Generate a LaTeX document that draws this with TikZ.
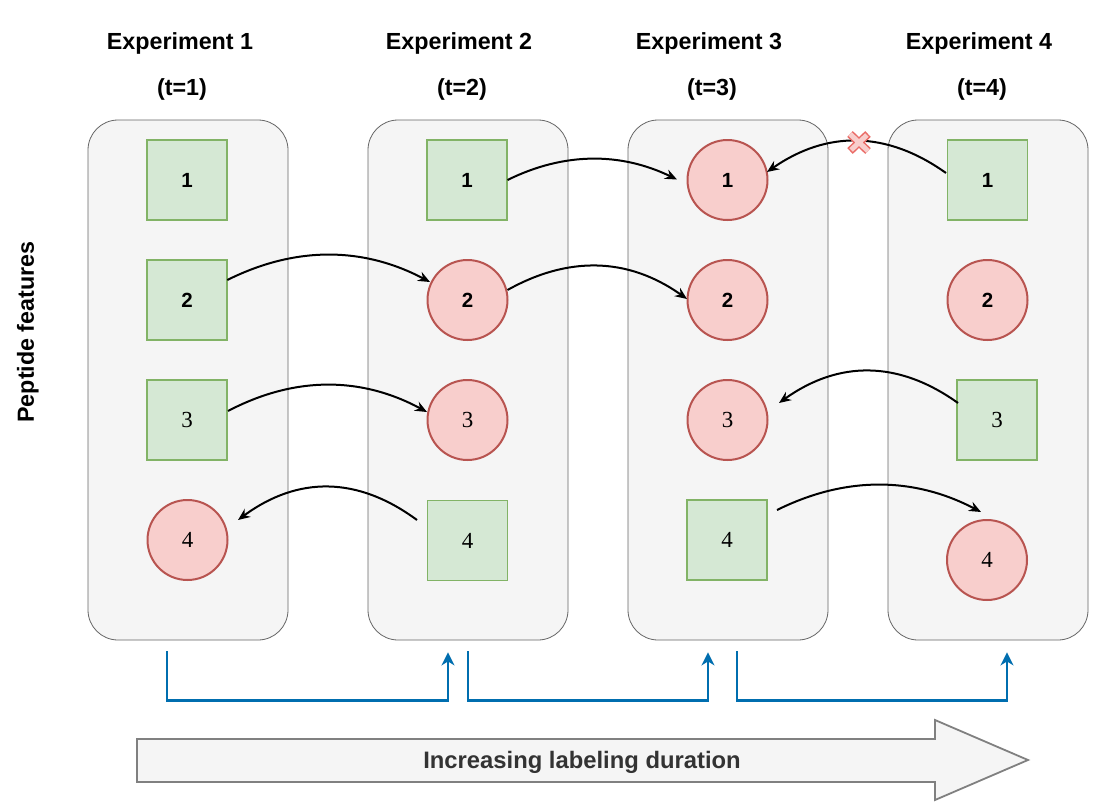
\documentclass[tikz,border=0pt]{standalone}
\usepackage{fontspec}
\setmainfont{Liberation Sans}
\newfontfamily\digserif{Liberation Serif}
\usetikzlibrary{arrows.meta,calc}
\definecolor{gfill}{HTML}{D5E8D4}
\definecolor{gline}{HTML}{82B366}
\definecolor{rfill}{HTML}{F8CECC}
\definecolor{rline}{HTML}{B85450}
\definecolor{pfill}{HTML}{F5F5F5}
\definecolor{pline}{HTML}{666666}
\definecolor{bline}{HTML}{006EAF}
\definecolor{xline}{HTML}{EA6B66}
\definecolor{tgray}{HTML}{333333}
\definecolor{agray}{HTML}{808080}
\begin{document}
\begin{tikzpicture}[x=1pt,y=-1pt,
 panel/.style={draw=pline, fill=pfill, line width=0.8pt, rounded corners=30pt, minimum width=200pt, minimum height=520pt, inner sep=0pt},
 sq/.style={draw=gline, fill=gfill, line width=1.6pt, minimum size=80pt, inner sep=0pt},
 circ/.style={circle, draw=rline, fill=rfill, line width=2pt, minimum size=80pt, inner sep=0pt},
 bd/.style={font=\fontsize{20.5}{24}\selectfont\bfseries},
 sd/.style={font=\digserif\fontsize{23}{27}\selectfont},
 ttl/.style={font=\fontsize{23.3}{27}\selectfont\bfseries, anchor=base, inner sep=0pt},
 flow/.style={line width=2pt, -{Stealth[length=12pt,width=10pt,inset=4pt]}},
 bluearrow/.style={draw=bline, line width=2.2pt, -{Stealth[length=13pt,width=13pt,inset=4pt]}},
]
\useasboundingbox (0,0) rectangle (1098,811);
\fill[white] (0,0) rectangle (1098,811);

% titles
\node[ttl] (h1) at (180,49.3) {Experiment 1};
\node[ttl] (h2) at (459,49.3) {Experiment 2};
\node[ttl] (h3) at (709,49.3) {Experiment 3};
\node[ttl] (h4) at (979,49.3) {Experiment 4};
\node[ttl] (tt1) at (182,95) {(t=1)};
\node[ttl] (tt2) at (462,95) {(t=2)};
\node[ttl] (tt3) at (712,95) {(t=3)};
\node[ttl] (tt4) at (982,95) {(t=4)};
\node[ttl, rotate=90] (pf) at (34,332) {Peptide features};

% panels
\node[panel] (p1) at (188,380) {};
\node[panel] (p2) at (468,380) {};
\node[panel] (p3) at (728,380) {};
\node[panel] (p4) at (988,380) {};

% experiment 1
\node[sq, bd] (e1r1) at (187,180) {1};
\node[sq, bd] (e1r2) at (187,300) {2};
\node[sq, sd] (e1r3) at (187,420) {3};
\node[circ, sd] (e1r4) at (187.5,540) {4};
% experiment 2
\node[sq, bd] (e2r1) at (467,180) {1};
\node[circ, bd] (e2r2) at (467.5,300) {2};
\node[circ, sd] (e2r3) at (467.5,420) {3};
\node[sq, sd] (e2r4) at (467.5,540.5) {4};
% experiment 3
\node[circ, bd] (e3r1) at (727.5,180) {1};
\node[circ, bd] (e3r2) at (727.5,300) {2};
\node[circ, sd] (e3r3) at (727.5,420) {3};
\node[sq, sd] (e3r4) at (727,540) {4};
% experiment 4
\node[sq, bd] (e4r1) at (987.5,180) {1};
\node[circ, bd] (e4r2) at (987.5,300) {2};
\node[sq, sd] (e4r3) at (997,420) {3};
\node[circ, sd] (e4r4) at (987,560) {4};

% curved connectors
\draw[flow] ($(e1r2.center)+(40.3,-20)$) .. controls +(67.6,-33.7) and +(-67.6,-35.7) .. ($(e2r2.center)+(-37.5,-18)$);
\draw[flow] ($(e1r3.center)+(41,-9)$) .. controls +(66.3,-34.8) and +(-66.3,-35.8) .. ($(e2r3.center)+(-40.5,-8)$);
\draw[flow] ($(e2r4.center)+(-50.5,-20.5)$) .. controls +(-59.7,-44) and +(59.7,-44) .. ($(e1r4.center)+(50.5,-20)$);
\draw[flow] ($(e2r1.center)+(40.5,0)$) .. controls +(56.5,-27.9) and +(-56.5,-27.4) .. ($(e3r1.center)+(-50.5,-0.5)$);
\draw[flow] ($(e2r2.center)+(40,-10)$) .. controls +(59.8,-33.5) and +(-59.8,-42.5) .. ($(e3r2.center)+(-40.5,-1)$);
\draw[flow] ($(e4r1.center)+(-41.5,-7)$) .. controls +(-59.7,-42.5) and +(59.7,-41.5) .. ($(e3r1.center)+(39.5,-8)$);
\draw[flow] ($(e4r3.center)+(-39,-17)$) .. controls +(-59.7,-42.7) and +(59.7,-42.7) .. ($(e3r3.center)+(51.5,-17)$);
\draw[flow] ($(e3r4.center)+(50,-30)$) .. controls +(68,-33.7) and +(-68,-35.7) .. ($(e4r4.center)+(-6,-48)$);

% cross mark
\coordinate (xm) at (859,142.5);
\draw[xline, line width=8pt] ($(xm)+(-9,-8.5)$) -- ($(xm)+(9,8.5)$) ($(xm)+(9,-8.5)$) -- ($(xm)+(-9,8.5)$);
\draw[rfill, line width=5pt, shorten <=1.5pt, shorten >=1.5pt] ($(xm)+(-9,-8.5)$) -- ($(xm)+(9,8.5)$) ($(xm)+(9,-8.5)$) -- ($(xm)+(-9,8.5)$);

% blue step connectors
\draw[bluearrow] ($(p1.south)+(-21,11)$) -- ++(0,49) -| ($(p2.south)+(-20,12)$);
\draw[bluearrow] ($(p2.south)+(0,11)$) -- ++(0,49) -| ($(p3.south)+(-20,12)$);
\draw[bluearrow] ($(p3.south)+(9,11)$) -- ++(0,49) -| ($(p4.south)+(19,12)$);

% big arrow
\draw[agray, fill=pfill, line width=1.8pt] (137,739) -- (935,739) -- (935,720) -- (1028,760) -- (935,800) -- (935,782) -- (137,782) -- cycle;
\node[font=\fontsize{23.8}{27}\selectfont\bfseries, text=tgray, anchor=base, inner sep=0pt] (dur) at (582,768.3) {Increasing labeling duration};

\end{tikzpicture}
\end{document}
